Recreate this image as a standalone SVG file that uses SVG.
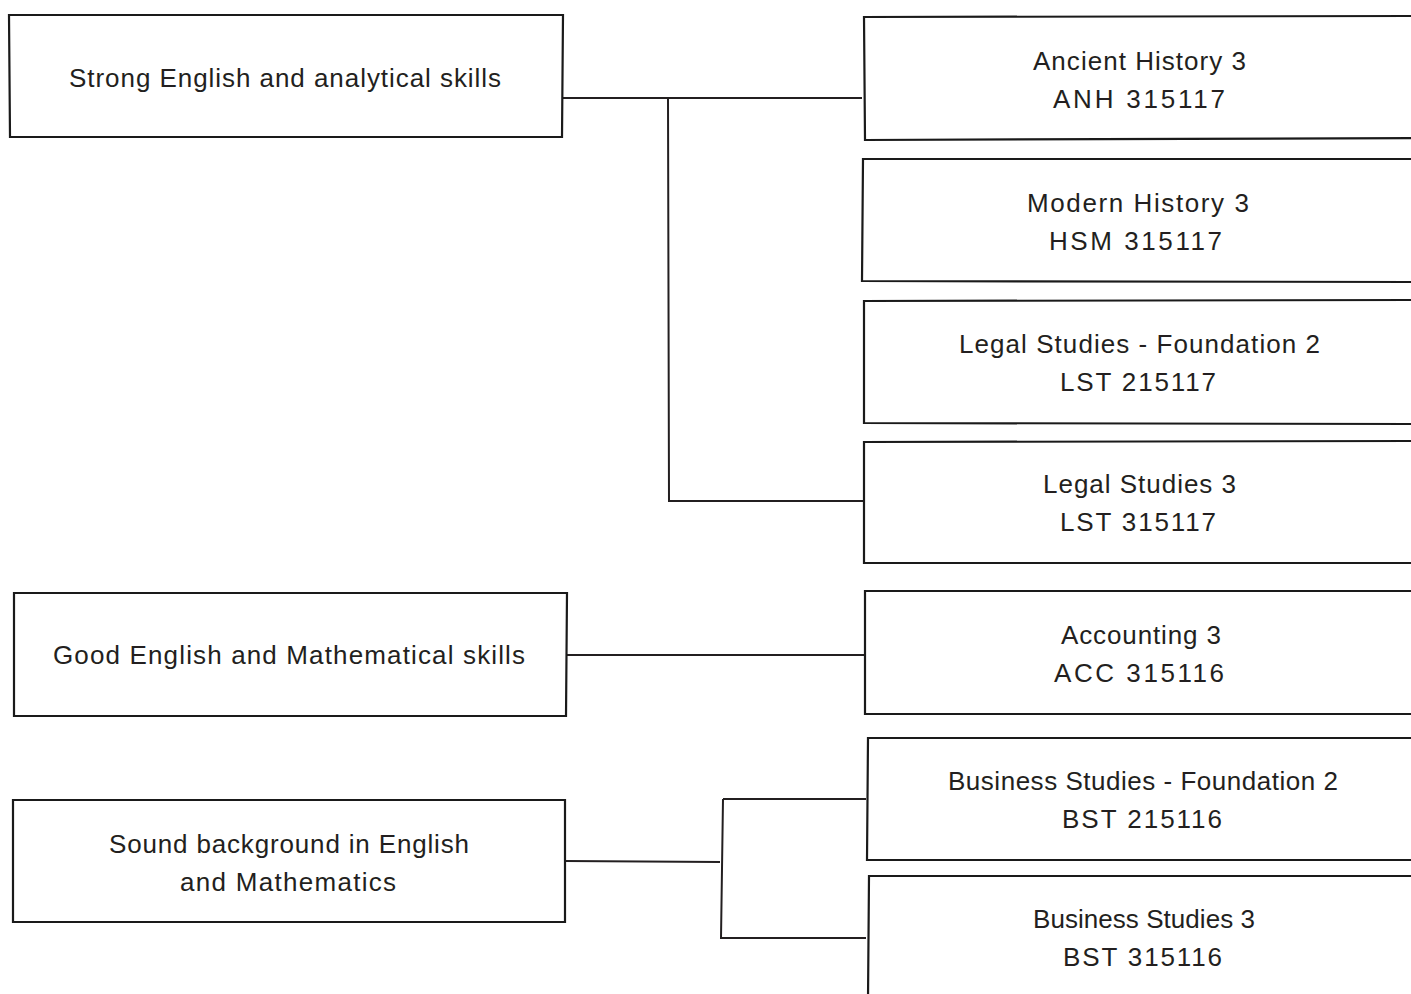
<svg xmlns="http://www.w3.org/2000/svg" width="1411" height="994" viewBox="0 0 1411 994">
<style>
.box{fill:#fff;stroke:#1a1a1a;stroke-width:2.2}
.ln{fill:none;stroke:#231f20;stroke-width:2}
text{font-family:"Liberation Sans",Arial,sans-serif;font-size:26px;fill:#231f20;text-anchor:middle}
</style>
<rect width="1411" height="994" fill="#fff"/>
<g id="connectors">
<path class="ln" d="M563 98 L862 98"/>
<path class="ln" d="M668 98 L669 501 L864 501"/>
<path class="ln" d="M567 655 L864 655"/>
<path class="ln" d="M565 861 L720 862"/>
<path class="ln" d="M723 799 L866 799"/>
<path class="ln" d="M723 799 L721 938 L866 938"/>
</g>
<g id="n1"><path class="box" d="M9 15 L563 15 L562 137 L10 137 Z"/><text x="285" y="87" textLength="432" lengthAdjust="spacing">Strong English and analytical skills</text></g>
<g id="n2"><path class="box" d="M14 593 L567 593 L566 716 L14 716 Z"/><text x="289" y="664" textLength="472" lengthAdjust="spacing">Good English and Mathematical skills</text></g>
<g id="n3"><path class="box" d="M13 800 L565 800 L565 922 L13 922 Z"/><text x="289" y="853" textLength="360" lengthAdjust="spacing">Sound background in English</text><text x="288" y="891" textLength="216" lengthAdjust="spacing">and Mathematics</text></g>
<g id="a"><path class="box" d="M864 17 L1420 16 L1420 138 L865 140 Z"/><text x="1139.5" y="70" textLength="213" lengthAdjust="spacing">Ancient History 3</text><text x="1139" y="108" textLength="172" lengthAdjust="spacing">ANH 315117</text></g>
<g id="b"><path class="box" d="M863 159 L1420 159 L1420 282 L862 281 Z"/><text x="1138" y="212" textLength="222" lengthAdjust="spacing">Modern History 3</text><text x="1135.5" y="250" textLength="173" lengthAdjust="spacing">HSM 315117</text></g>
<g id="c"><path class="box" d="M864 301 L1420 300 L1420 424 L864 423 Z"/><text x="1139.5" y="353" textLength="361" lengthAdjust="spacing">Legal Studies - Foundation 2</text><text x="1138" y="391" textLength="156" lengthAdjust="spacing">LST 215117</text></g>
<g id="d"><path class="box" d="M864 442 L1420 441 L1420 563 L864 563 Z"/><text x="1139.5" y="493" textLength="193" lengthAdjust="spacing">Legal Studies 3</text><text x="1138" y="531" textLength="156" lengthAdjust="spacing">LST 315117</text></g>
<g id="e"><path class="box" d="M865 591 L1420 591 L1420 714 L865 714 Z"/><text x="1141" y="644" textLength="160" lengthAdjust="spacing">Accounting 3</text><text x="1139" y="682" textLength="170" lengthAdjust="spacing">ACC 315116</text></g>
<g id="f"><path class="box" d="M868 738 L1420 738 L1420 860 L867 860 Z"/><text x="1143" y="790" textLength="390" lengthAdjust="spacing">Business Studies - Foundation 2</text><text x="1142" y="828" textLength="160" lengthAdjust="spacing">BST 215116</text></g>
<g id="g"><path class="box" d="M869 876 L1420 876 L1420 1000 L868 1000 Z"/><text x="1144" y="928" textLength="222" lengthAdjust="spacing">Business Studies 3</text><text x="1142.5" y="966" textLength="159" lengthAdjust="spacing">BST 315116</text></g>
</svg>
